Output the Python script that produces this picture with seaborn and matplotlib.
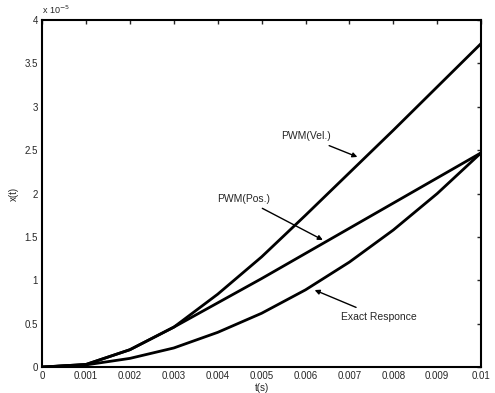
import matplotlib
matplotlib.use("Agg")
import matplotlib.pyplot as plt
import seaborn as sns
import pandas as pd

t = [0, 0.001, 0.002, 0.003, 0.004, 0.005, 0.006, 0.007, 0.008, 0.009, 0.01]
# values in units of 1e-5
pwm_vel = [0, 0.03, 0.2, 0.46, 0.84, 1.27, 1.75, 2.24, 2.73, 3.23, 3.73]
pwm_pos = [0, 0.03, 0.2, 0.46, 0.74, 1.02, 1.31, 1.60, 1.89, 2.18, 2.47]
exact = [0, 0.025, 0.1, 0.22, 0.4, 0.62, 0.89, 1.21, 1.58, 2.0, 2.47]

xticks = [0, 0.001, 0.002, 0.003, 0.004, 0.005, 0.006, 0.007, 0.008, 0.009, 0.01]
xticklabels = ["0", "0.001", "0.002", "0.003", "0.004", "0.005", "0.006", "0.007", "0.008", "0.009", "0.01"]
yticks = [0, 0.5, 1, 1.5, 2, 2.5, 3, 3.5, 4]
yticklabels = ["0", "0.5", "1", "1.5", "2", "2.5", "3", "3.5", "4"]

df = pd.DataFrame({"t": t * 3,
                   "x": pwm_vel + pwm_pos + exact,
                   "series": ["PWM(Vel.)"] * len(t) + ["PWM(Pos.)"] * len(t) + ["Exact Responce"] * len(t)})

sns.set_style("white")
plt.rcParams['font.family'] = ['Liberation Sans', 'DejaVu Sans']

fig = plt.figure(figsize=(4.95, 3.93), dpi=100)
ax = fig.add_axes([0.085, 0.066, 0.887, 0.883])
sns.lineplot(data=df, x="t", y="x", units="series", estimator=None, color="black",
             linewidth=2.0, ax=ax, legend=False)

ax.set_xlim(0, 0.01)
ax.set_ylim(0, 4)
ax.set_xticks(xticks)
ax.set_xticklabels(xticklabels, fontsize=7)
ax.set_yticks(yticks)
ax.set_yticklabels(yticklabels, fontsize=7)
ax.tick_params(direction="in", top=True, right=True, length=3, width=1, pad=3)
for s in ax.spines.values():
    s.set_visible(True)
    s.set_linewidth(1.5)
    s.set_color("black")
ax.set_xlabel("t(s)", fontsize=7, labelpad=1)
ax.set_ylabel("x(t)", fontsize=7, labelpad=4)
ax.text(0.0, 1.012, r"x 10$^{-5}$", transform=ax.transAxes, fontsize=6.5, ha="left", va="bottom")

arrow = dict(arrowstyle="-|>", color="black", lw=1.0, mutation_scale=7)
ax.annotate("PWM(Vel.)", xy=(0.00724, 2.41), xytext=(0.00601, 2.66),
            fontsize=7.5, ha="center", va="center", arrowprops=arrow)
ax.annotate("PWM(Pos.)", xy=(0.00645, 1.45), xytext=(0.0046, 1.94),
            fontsize=7.5, ha="center", va="center", arrowprops=arrow)
ax.annotate("Exact Responce", xy=(0.00615, 0.90), xytext=(0.00766, 0.58),
            fontsize=7.5, ha="center", va="center", arrowprops=arrow)

fig.savefig("out.png", dpi=100)
